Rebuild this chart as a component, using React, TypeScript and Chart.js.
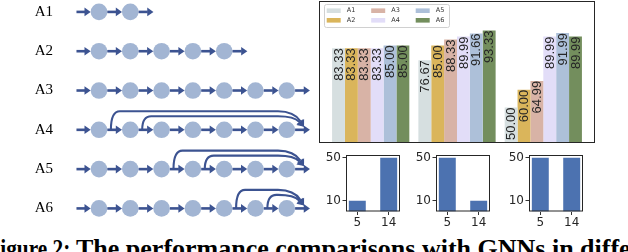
import React, { useEffect, useRef } from "react";
import { Chart, registerables } from "chart.js";
Chart.register(...registerables);

// ---------- data ----------
const rowLabels = ["A1", "A2", "A3", "A4", "A5", "A6"];
const rowNodeCounts = [2, 5, 7, 7, 7, 7];
const rowSkipSources = [[], [], [], [0, 1], [2, 3], [4, 5]];

const groupPositions = [0, 1, 2];
const seriesNames = ["A1", "A2", "A3", "A4", "A5", "A6"];
const seriesA1 = [83.33, 76.67, 50.0];
const seriesA2 = [83.33, 85.0, 60.0];
const seriesA3 = [83.33, 88.33, 64.99];
const seriesA4 = [83.33, 89.99, 89.99];
const seriesA5 = [85.0, 91.66, 91.99];
const seriesA6 = [85.0, 93.33, 89.99];
const seriesValues = [seriesA1, seriesA2, seriesA3, seriesA4, seriesA5, seriesA6];
const seriesColors = ["#d6dfe0", "#dab55b", "#d8b3a6", "#e2ddf8", "#adc0d9", "#738e5d"];

const smallCategories = ["5", "14"];
const smallValues1 = [10, 50];
const smallValues2 = [50, 10];
const smallValues3 = [50, 50];
const smallYTicks = [10, 50];

const captionHead = "Figure 2:";
const captionTail = "The performance comparisons with GNNs in different settings";

// ---------- plugins ----------
const framePlugin = {
  id: "frame",
  afterDraw(chart: any) {
    const { ctx, chartArea: a } = chart;
    ctx.save();
    ctx.strokeStyle = "#262626";
    ctx.lineWidth = 1;
    ctx.strokeRect(a.left + 0.5, a.top + 0.5, a.right - a.left - 1, a.bottom - a.top - 1);
    ctx.restore();
  },
};

const barLabelPlugin = {
  id: "barLabels",
  afterDatasetsDraw(chart: any) {
    const ctx = chart.ctx;
    ctx.save();
    ctx.fillStyle = "#262626";
    ctx.font = '13px "Liberation Sans"';
    ctx.textAlign = "right";
    ctx.textBaseline = "middle";
    chart.data.datasets.forEach((ds: any, di: number) => {
      const meta = chart.getDatasetMeta(di);
      meta.data.forEach((el: any, i: number) => {
        const v = ds.data[i].y;
        ctx.save();
        ctx.translate(el.x + 0.5, el.y);
        ctx.rotate(-Math.PI / 2);
        ctx.fillText(v.toFixed(2), 0, 0);
        ctx.restore();
      });
    });
    ctx.restore();
  },
};

const gridLegendPlugin = {
  id: "gridLegend",
  afterDraw(chart: any) {
    const ctx = chart.ctx;
    ctx.save();
    ctx.fillStyle = "rgba(255,255,255,0.85)";
    ctx.strokeStyle = "#d0d0d0";
    ctx.lineWidth = 1;
    ctx.beginPath();
    (ctx as any).roundRect(5.5, 3.5, 125, 23, 2);
    ctx.fill();
    ctx.stroke();
    ctx.font = '6.5px "DejaVu Sans"';
    ctx.textBaseline = "middle";
    ctx.textAlign = "left";
    chart.data.datasets.forEach((ds: any, i: number) => {
      const col = Math.floor(i / 2);
      const row = i % 2;
      const px = 7.7 + col * 44.5;
      const py = 9.7 + row * 9.6;
      ctx.fillStyle = ds.backgroundColor;
      ctx.fillRect(px, py - 2.3, 14, 4.6);
      ctx.fillStyle = "#333333";
      ctx.fillText(ds.label, px + 20, py);
    });
    ctx.restore();
  },
};

const ARROW = "#3c5391";

function arrowHead(ctx: CanvasRenderingContext2D, tx: number, ty: number, dx: number, dy: number, len: number, hw: number) {
  const m = Math.hypot(dx, dy);
  const ux = dx / m, uy = dy / m;
  const bx = tx - ux * len, by = ty - uy * len;
  ctx.beginPath();
  ctx.moveTo(tx, ty);
  ctx.lineTo(bx - uy * hw, by + ux * hw);
  ctx.lineTo(bx + uy * hw, by - ux * hw);
  ctx.closePath();
  ctx.fill();
}

const NODE_R = 8.3;

const arrowsPlugin = {
  id: "arrows",
  afterDatasetsDraw(chart: any) {
    const ctx: CanvasRenderingContext2D = chart.ctx;
    const xs = chart.scales.x;
    const ys = chart.scales.y;
    ctx.save();
    ctx.strokeStyle = ARROW;
    ctx.fillStyle = ARROW;
    ctx.lineCap = "butt";
    rowNodeCounts.forEach((n, r) => {
      const y = ys.getPixelForValue(r + 1);
      const px = (v: number) => xs.getPixelForValue(v);
      const segs: [number, number][] = [];
      segs.push([px(-0.72), px(0) - NODE_R]);
      for (let i = 0; i < n - 1; i++) segs.push([px(i) + NODE_R, px(i + 1) - NODE_R]);
      segs.push([px(n - 1) + NODE_R, px(n - 1 + 0.74)]);
      const headLen = 6.2;
      segs.forEach(([a, b]) => {
        ctx.lineWidth = 2.6;
        ctx.beginPath();
        ctx.moveTo(a, y);
        ctx.lineTo(b - headLen + 0.5, y);
        ctx.stroke();
        arrowHead(ctx, b, y, 1, 0, headLen, 4.3);
      });
      rowSkipSources[r].forEach((src, k) => {
        const sx = px(src + 0.38);
        const top = y - (k === 0 ? 18.5 : 13.5);
        const ex = px(n - 1 + 0.55);
        const ey = y - 3;
        const cx = ex - 10;
        const dx = ex - cx, dy = ey - top;
        const m = Math.hypot(dx, dy);
        const hl = 6.5;
        const bx = ex - (dx / m) * hl, by = ey - (dy / m) * hl;
        ctx.lineWidth = 2.1;
        ctx.beginPath();
        ctx.moveTo(sx, y);
        ctx.quadraticCurveTo(sx, top, sx + 9, top);
        ctx.lineTo(ex - 26, top);
        ctx.quadraticCurveTo(cx, top, bx, by);
        ctx.stroke();
        arrowHead(ctx, ex, ey, dx, dy, hl, 4.3);
      });
    });
    ctx.restore();
  },
};

// ---------- components ----------
function useChart(ref: React.RefObject<HTMLCanvasElement | null>, make: () => any) {
  useEffect(() => {
    if (!ref.current) return;
    const c = new Chart(ref.current, make());
    return () => c.destroy();
  }, []);
}

function Diagram() {
  const ref = useRef<HTMLCanvasElement>(null);
  useChart(ref, () => {
    const pts: { x: number; y: number }[] = [];
    rowNodeCounts.forEach((n, r) => {
      for (let i = 0; i < n; i++) pts.push({ x: i, y: r + 1 });
    });
    return {
      type: "scatter",
      data: {
        datasets: [
          { data: pts, pointRadius: NODE_R, pointHoverRadius: NODE_R, backgroundColor: "#a2b5d3", borderWidth: 0 },
        ],
      },
      options: {
        animation: false,
        responsive: false,
        events: [],
        layout: { padding: 0, autoPadding: false },
        plugins: { legend: { display: false }, tooltip: { enabled: false } },
        scales: {
          x: { type: "linear", display: false, min: -1.246, max: 6.997 },
          y: {
            type: "linear",
            reverse: true,
            min: 0.697,
            max: 6.6,
            afterBuildTicks: (s: any) => {
              s.ticks = rowLabels.map((_, i) => ({ value: i + 1 }));
            },
            afterFit: (s: any) => {
              s.width = 60;
              s.paddingTop = 0;
              s.paddingBottom = 0;
            },
            ticks: {
              callback: (v: number) => rowLabels[Math.round(v) - 1],
              font: { family: "Liberation Serif", size: 15 },
              color: "#000000",
              padding: 7,
              autoSkip: false,
            },
            grid: { display: false, drawTicks: false },
            border: { display: false },
          },
        },
      },
      plugins: [arrowsPlugin],
    };
  });
  return <canvas ref={ref} width={318} height={232} style={{ position: "absolute", left: 0, top: 0, width: 318, height: 232 }} />;
}

function MainBars() {
  const ref = useRef<HTMLCanvasElement>(null);
  useChart(ref, () => ({
    type: "bar",
    data: {
      datasets: seriesValues.map((vals, i) => ({
        label: seriesNames[i],
        data: vals.map((v, g) => ({ x: groupPositions[g], y: v })),
        backgroundColor: seriesColors[i],
        borderWidth: 0,
        categoryPercentage: 0.895,
        barPercentage: 1,
      })),
    },
    options: {
      animation: false,
      responsive: false,
      events: [],
      layout: { padding: 0, autoPadding: false },
      plugins: { legend: { display: false }, tooltip: { enabled: false } },
      scales: {
        x: {
          type: "linear",
          display: false,
          min: -0.599,
          max: 2.599,
          offset: false,
          grid: { offset: false },
          afterBuildTicks: (s: any) => {
            s.ticks = groupPositions.map((v) => ({ value: v }));
          },
        },
        y: { type: "linear", display: false, min: 30, max: 110 },
      },
    },
    plugins: [barLabelPlugin, framePlugin, gridLegendPlugin],
  }));
  return <canvas ref={ref} width={276} height={142} style={{ position: "absolute", left: 319, top: 1, width: 276, height: 142 }} />;
}

function SmallBars({ values, left }: { values: number[]; left: number }) {
  const ref = useRef<HTMLCanvasElement>(null);
  useChart(ref, () => ({
    type: "bar",
    data: {
      datasets: [
        {
          data: values.map((v, i) => ({ x: i, y: v })),
          backgroundColor: "#4c72b0",
          borderWidth: 0,
          categoryPercentage: 0.54,
          barPercentage: 1,
        },
      ],
    },
    options: {
      animation: false,
      responsive: false,
      events: [],
      layout: { padding: { top: 5, right: 2, left: 0, bottom: 0 }, autoPadding: false },
      plugins: { legend: { display: false }, tooltip: { enabled: false } },
      scales: {
        x: {
          type: "linear",
          min: -0.36,
          max: 1.36,
          offset: false,
          afterBuildTicks: (s: any) => {
            s.ticks = smallCategories.map((_, i) => ({ value: i }));
          },
          afterFit: (s: any) => {
            s.height = 16.5;
            s.paddingLeft = 0;
            s.paddingRight = 0;
          },
          ticks: {
            callback: (v: number) => smallCategories[Math.round(v)],
            font: { family: "DejaVu Sans", size: 12 },
            color: "#262626",
            padding: 1,
            maxRotation: 0,
            autoSkip: false,
          },
          grid: { display: true, offset: false, drawOnChartArea: false, drawTicks: true, tickLength: 3.5, color: "#333333" },
          border: { display: false },
        },
        y: {
          type: "linear",
          min: 0,
          max: 52.5,
          afterBuildTicks: (s: any) => {
            s.ticks = smallYTicks.map((v) => ({ value: v }));
          },
          afterFit: (s: any) => {
            s.width = 24;
            s.paddingTop = 0;
            s.paddingBottom = 0;
          },
          ticks: {
            callback: (v: number) => String(v),
            font: { family: "DejaVu Sans", size: 12 },
            color: "#262626",
            padding: 1.5,
            autoSkip: false,
          },
          grid: { display: true, drawOnChartArea: false, drawTicks: true, tickLength: 3.5, color: "#333333" },
          border: { display: false },
        },
      },
    },
    plugins: [framePlugin],
  }));
  return <canvas ref={ref} width={80} height={78} style={{ position: "absolute", left: left - 24, top: 150, width: 80, height: 78 }} />;
}

export default function App() {
  const capFont: React.CSSProperties = {
    position: "absolute",
    top: 236,
    whiteSpace: "nowrap",
    fontFamily: '"Liberation Serif", serif',
    fontWeight: 700,
    fontSize: 26,
    lineHeight: "26px",
    color: "#000",
  };
  return (
    <div style={{ position: "fixed", left: 0, top: 0, width: 628, height: 252, overflow: "hidden", background: "#fff" }}>
      <Diagram />
      <MainBars />
      <SmallBars values={smallValues1} left={346} />
      <SmallBars values={smallValues2} left={436} />
      <SmallBars values={smallValues3} left={529} />
      <div style={{ ...capFont, right: 628 - 70, transform: "scaleX(0.82)", transformOrigin: "right center" }}>{captionHead}</div>
      <div style={{ ...capFont, left: 76 }}>{captionTail}</div>
    </div>
  );
}
